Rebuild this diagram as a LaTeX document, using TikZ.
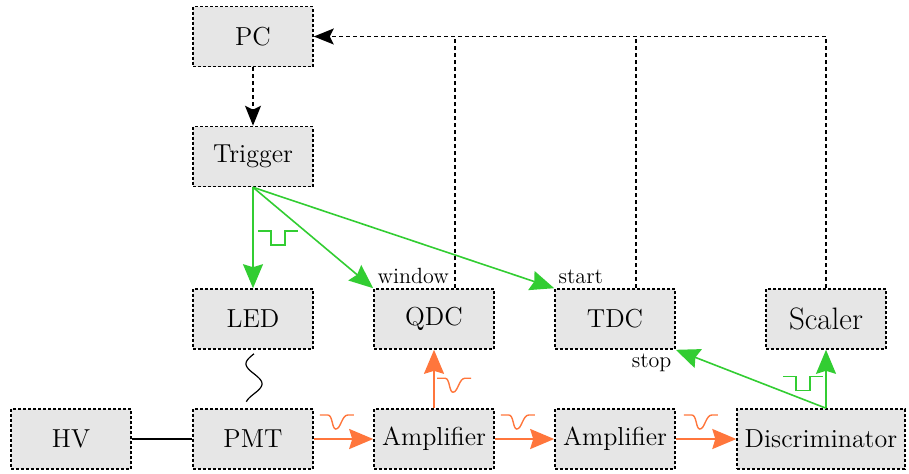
\documentclass[tikz,border=0pt]{standalone}
\usepackage{tikz}
\usetikzlibrary{arrows.meta,calc,positioning}
\definecolor{trigcolor}{RGB}{50,205,50}
\definecolor{sigcolor}{RGB}{255,118,60}
\definecolor{boxfill}{RGB}{230,230,230}
\tikzset{
  daq box/.style={
    draw=black,
    dash pattern=on 1.5pt off 1pt,
    line width=0.8pt,
    fill=boxfill,
    minimum width=60pt,
    minimum height=30pt,
    inner xsep=3.8pt,
    font=\fontsize{13}{15}\selectfont
  },
  trig arrow/.style={
    -{Stealth[length=12pt,width=10pt,inset=1.5pt]},
    draw=trigcolor,
    line width=0.8pt
  },
  sig arrow/.style={
    -{Stealth[length=12pt,width=10pt,inset=1.5pt]},
    draw=sigcolor,
    line width=1pt
  },
  readout/.style={
    dash pattern=on 2pt off 1.5pt,
    line width=0.8pt
  },
  readout arrow/.style={
    readout,
    -{Stealth[length=10pt,width=8pt,inset=2pt]}
  },
  port label/.style={
    inner sep=2pt,
    font=\fontsize{11}{13}\selectfont
  },
  sq pulse/.pic={
    \draw[trigcolor, line width=0.7pt] (0,0) -- (13,0) -- (13,14) -- (27,14) -- (27,0) -- (40,0);
  },
  neg pulse/.pic={
    \draw[sigcolor, line width=0.7pt] (0,0) -- (8,0) .. controls (13,0) and (12,14) .. (16,14)
      .. controls (21,14) and (22,0) .. (28,0) -- (34,0);
  }
}

\begin{document}
\begin{tikzpicture}[x=0.5pt,y=-0.5pt]
  \useasboundingbox (0,0) rectangle (909,473);
  % Readout chain of the PMT test bench
  \node[daq box] (PC) at (253,36.5) {PC};
  \node[daq box] (Trigger) at (253,156.5) {Trigger};
  \node[daq box] (LED) at (253,319) {LED};
  \node[daq box] (QDC) at (434,319) {QDC};
  \node[daq box] (TDC) at (615,319) {TDC};
  \node[daq box, font=\fontsize{15.5}{18}\selectfont] (Scaler) at (826,319) {Scaler};
  \node[daq box] (HV) at (71,439) {HV};
  \node[daq box] (PMT) at (253,439) {PMT};
  \node[daq box] (Amp1) at (434,439) {Amplifier};
  \node[daq box] (Amp2) at (615,439) {Amplifier};
  \node[daq box] (Disc) at (821,439) {Discriminator};

  % data back to the PC
  \coordinate (qdcout) at ($(QDC.north)+(21,0)$);
  \coordinate (tdcout) at ($(TDC.north)+(21,0)$);
  \draw[readout arrow] (Scaler.north) |- (PC.east);
  \draw[readout] (qdcout) -- (qdcout |- PC.east);
  \draw[readout] (tdcout) -- (tdcout |- PC.east);
  \draw[readout arrow] (PC.south) -- (Trigger.north);

  % trigger signals
  \draw[trig arrow] (Trigger.south) -- (LED.north);
  \draw[trig arrow] (Trigger.south) -- (QDC.north west);
  \draw[trig arrow] (Trigger.south) -- (TDC.north west);
  \pic at ($(Trigger.south)+(5,43.5)$) {sq pulse};
  \node[port label, anchor=south west] (window) at (QDC.north west) {window};
  \node[port label, anchor=south west] (start) at (TDC.north west) {start};
  \node[port label, anchor=north east] (stop) at (TDC.south east) {stop};

  % light and analog signal
  \draw[line width=0.8pt] (HV) -- (PMT);
  \draw[line width=0.6pt, shift={(LED.south)}]
    plot[domain=0:48, samples=60, smooth] ({1-8*sin(9*\x)}, {4+\x});
  \draw[sig arrow] (PMT) -- (Amp1);
  \draw[sig arrow] (Amp1) -- (Amp2);
  \draw[sig arrow] (Amp2) -- (Disc);
  \draw[sig arrow] (Amp1) -- (QDC);
  \pic at ($(PMT.east)+(6,-24)$) {neg pulse};
  \pic at ($(Amp1.east)+(6,-24)$) {neg pulse};
  \pic at ($(Amp2.east)+(8,-24)$) {neg pulse};
  \pic at ($(Amp1.north)+(3,-30)$) {neg pulse};

  % discriminator output
  \coordinate (discout) at (Disc.north -| Scaler.south);
  \draw[trig arrow] (discout) -- (Scaler.south);
  \draw[trig arrow] (discout) -- (TDC.south east);
  \pic at ($(discout)+(-43,-32)$) {sq pulse};
\end{tikzpicture}
\end{document}
